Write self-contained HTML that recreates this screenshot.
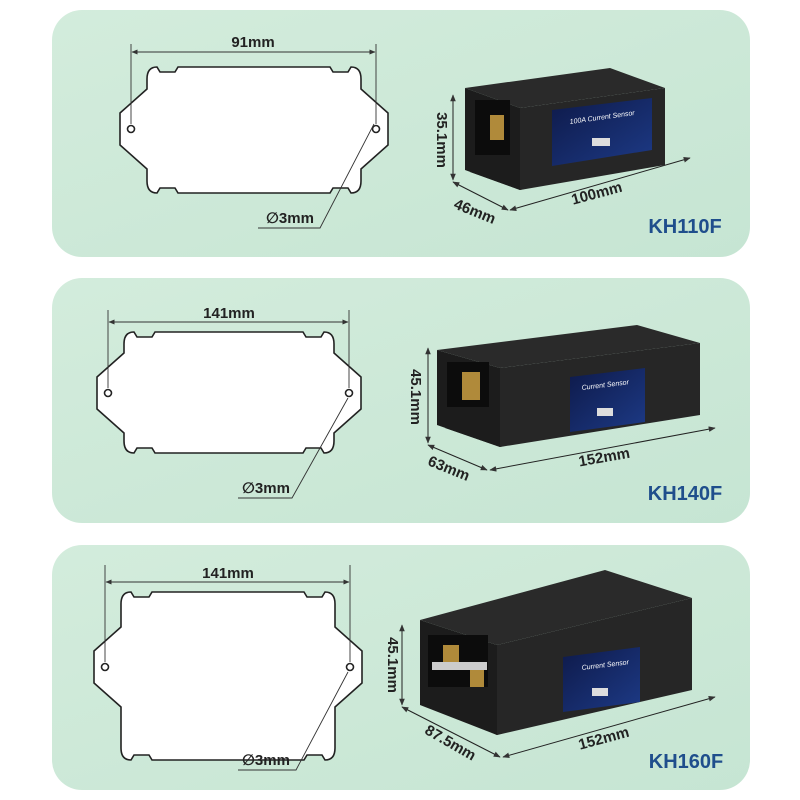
<!DOCTYPE html>
<html><head><meta charset="utf-8"><style>
html,body{margin:0;padding:0;background:#fff;}
svg{display:block;font-family:"Liberation Sans","DejaVu Sans",sans-serif;}
</style></head><body>
<svg id="s" width="800" height="800" viewBox="0 0 800 800">
<defs>
<linearGradient id="bg" x1="0" y1="0" x2="1" y2="1">
<stop offset="0" stop-color="#d3ecdc"/><stop offset="1" stop-color="#c6e5d3"/></linearGradient>
<linearGradient id="lab" x1="0" y1="0" x2="1" y2="1">
<stop offset="0" stop-color="#0e1a4a"/><stop offset="1" stop-color="#1d3a86"/></linearGradient>
<marker id="ar" viewBox="0 0 10 10" refX="9" refY="5" markerWidth="7" markerHeight="7" orient="auto-start-reverse">
<path d="M0 1 L10 5 L0 9 Z" fill="#333"/></marker>
</defs>
<rect x="52" y="10" width="698" height="247" rx="30" fill="url(#bg)"/>
<rect x="52" y="278" width="698" height="245" rx="30" fill="url(#bg)"/>
<rect x="52" y="545" width="698" height="245" rx="30" fill="url(#bg)"/>
<g id="plates" fill="#fff" stroke="#222" stroke-width="1.6"></g>
<g stroke="#333" stroke-width="0.9" fill="none">
<line x1="131" y1="44" x2="131" y2="124"/><line x1="376" y1="44" x2="376" y2="124"/>
<line x1="132" y1="52" x2="375" y2="52" marker-start="url(#ar)" marker-end="url(#ar)"/>
<polyline points="374,124 320,228 258,228"/>
<line x1="108" y1="310" x2="108" y2="388"/><line x1="349" y1="310" x2="349" y2="388"/>
<line x1="109" y1="322" x2="348" y2="322" marker-start="url(#ar)" marker-end="url(#ar)"/>
<polyline points="348,398 292,498 238,498"/>
<line x1="105" y1="565" x2="105" y2="662"/><line x1="350" y1="565" x2="350" y2="662"/>
<line x1="106" y1="582" x2="349" y2="582" marker-start="url(#ar)" marker-end="url(#ar)"/>
<polyline points="348,672 296,770 238,770"/>
</g>
<g fill="#222" font-size="15" font-weight="bold" text-anchor="middle">
<text x="253" y="47">91mm</text>
<text x="229" y="318">141mm</text>
<text x="228" y="578">141mm</text>
<text x="290" y="223">∅3mm</text>
<text x="266" y="493">∅3mm</text>
<text x="266" y="765">∅3mm</text>
</g>
<g>
<polygon points="470,172 520,190 535,186 485,165" fill="#222"/>
<polygon points="610,68 665,88 520,108 465,88" fill="#2a2a2a"/>
<polygon points="465,88 520,108 520,190 465,170" fill="#1c1c1c"/>
<polygon points="520,108 665,88 665,165 520,190" fill="#262626"/>
<rect x="475" y="100" width="35" height="55" fill="#0c0c0c"/>
<rect x="490" y="115" width="14" height="25" fill="#b08a3a"/>
<polygon points="552,110 652,98 652,150 552,166" fill="url(#lab)"/>
<text x="570" y="124" font-size="7" fill="#fff" font-style="italic" transform="rotate(-8 570 124)">100A Current Sensor</text>
<rect x="592" y="138" width="18" height="8" fill="#ddd"/>
</g>
<g>
<polygon points="445,428 500,447 515,443 460,424" fill="#222"/>
<polygon points="637,325 700,343 500,368 437,350" fill="#2a2a2a"/>
<polygon points="437,350 500,368 500,447 437,425" fill="#1c1c1c"/>
<polygon points="500,368 700,343 700,415 500,447" fill="#262626"/>
<rect x="447" y="362" width="42" height="45" fill="#0c0c0c"/>
<rect x="462" y="372" width="18" height="28" fill="#b08a3a"/>
<polygon points="570,377 645,368 645,422 570,432" fill="url(#lab)"/>
<text x="582" y="390" font-size="7" fill="#fff" font-style="italic" transform="rotate(-7 582 390)">Current Sensor</text>
<rect x="597" y="408" width="16" height="8" fill="#ddd"/>
</g>
<g>
<polygon points="430,705 497,735 515,730 450,700" fill="#222"/>
<polygon points="605,570 692,598 497,645 420,620" fill="#2a2a2a"/>
<polygon points="420,620 497,645 497,735 420,705" fill="#1c1c1c"/>
<polygon points="497,645 692,598 692,690 497,735" fill="#262626"/>
<rect x="428" y="635" width="60" height="52" fill="#0c0c0c"/>
<rect x="443" y="645" width="16" height="25" fill="#b08a3a"/>
<rect x="470" y="665" width="14" height="22" fill="#b08a3a"/>
<rect x="432" y="662" width="55" height="8" fill="#ccc"/>
<polygon points="563,657 640,647 640,702 563,712" fill="url(#lab)"/>
<text x="582" y="670" font-size="7" fill="#fff" font-style="italic" transform="rotate(-7 582 670)">Current Sensor</text>
<rect x="592" y="688" width="16" height="8" fill="#ddd"/>
</g>
<g stroke="#222" stroke-width="1" fill="none">
<line x1="453" y1="95" x2="453" y2="180" marker-start="url(#ar)" marker-end="url(#ar)"/>
<line x1="453" y1="182" x2="508" y2="210" marker-start="url(#ar)" marker-end="url(#ar)"/>
<line x1="510" y1="210" x2="690" y2="158" marker-start="url(#ar)" marker-end="url(#ar)"/>
<line x1="428" y1="348" x2="428" y2="443" marker-start="url(#ar)" marker-end="url(#ar)"/>
<line x1="428" y1="445" x2="487" y2="470" marker-start="url(#ar)" marker-end="url(#ar)"/>
<line x1="490" y1="470" x2="715" y2="428" marker-start="url(#ar)" marker-end="url(#ar)"/>
<line x1="402" y1="625" x2="402" y2="705" marker-start="url(#ar)" marker-end="url(#ar)"/>
<line x1="402" y1="707" x2="500" y2="757" marker-start="url(#ar)" marker-end="url(#ar)"/>
<line x1="503" y1="757" x2="715" y2="697" marker-start="url(#ar)" marker-end="url(#ar)"/>
</g>
<g fill="#222" font-size="15" font-weight="bold" text-anchor="middle">
<text transform="translate(437,140) rotate(90)">35.1mm</text>
<text transform="translate(473,216) rotate(22)">46mm</text>
<text transform="translate(598,198) rotate(-15)">100mm</text>
<text transform="translate(411,397) rotate(90)">45.1mm</text>
<text transform="translate(447,473) rotate(22)">63mm</text>
<text transform="translate(605,462) rotate(-10)">152mm</text>
<text transform="translate(388,665) rotate(90)">45.1mm</text>
<text transform="translate(448,747) rotate(30)">87.5mm</text>
<text transform="translate(605,743) rotate(-15)">152mm</text>
</g>
<g fill="#1f4e8c" font-size="20" font-weight="bold" text-anchor="middle">
<text x="685" y="233">KH110F</text>
<text x="685" y="500">KH140F</text>
<text x="686" y="768">KH160F</text>
</g>
</svg>
<script>
function plate(x1,x2,t,b,hy){
 var d='M'+x1+' '+(hy-16)+' L'+(x1+27)+' '+(hy-40)+' L'+(x1+27)+' '+(t+12)+' Q'+(x1+27)+' '+t+' '+(x1+37)+' '+t+
 ' L'+(x1+40)+' '+(t+5)+' L'+(x1+55)+' '+(t+5)+' L'+(x1+58)+' '+t+
 ' L'+(x2-58)+' '+t+' L'+(x2-55)+' '+(t+5)+' L'+(x2-40)+' '+(t+5)+' L'+(x2-37)+' '+t+
 ' Q'+(x2-27)+' '+t+' '+(x2-27)+' '+(t+12)+' L'+(x2-27)+' '+(hy-40)+' L'+x2+' '+(hy-16)+
 ' L'+x2+' '+(hy+16)+' L'+(x2-27)+' '+(hy+40)+' L'+(x2-27)+' '+(b-12)+' Q'+(x2-27)+' '+b+' '+(x2-37)+' '+b+
 ' L'+(x2-40)+' '+(b-5)+' L'+(x2-55)+' '+(b-5)+' L'+(x2-58)+' '+b+
 ' L'+(x1+58)+' '+b+' L'+(x1+55)+' '+(b-5)+' L'+(x1+40)+' '+(b-5)+' L'+(x1+37)+' '+b+
 ' Q'+(x1+27)+' '+b+' '+(x1+27)+' '+(b-12)+' L'+(x1+27)+' '+(hy+40)+' L'+x1+' '+(hy+16)+' Z';
 return '<path d="'+d+'"/><circle cx="'+(x1+11)+'" cy="'+hy+'" r="3.5"/><circle cx="'+(x2-12)+'" cy="'+hy+'" r="3.5"/>';
}
document.getElementById('plates').innerHTML=
 plate(120,388,67,193,129)+plate(97,361,332,453,393)+plate(94,362,592,760,667);
</script>
</body></html>
